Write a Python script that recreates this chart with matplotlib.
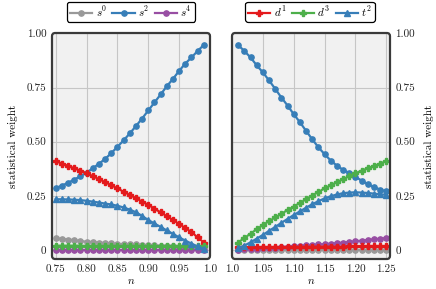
import matplotlib
matplotlib.use("Agg")
import matplotlib.pyplot as plt
from matplotlib.patches import FancyBboxPatch

plt.rcParams['font.family'] = ['cmr10', 'DejaVu Serif']
plt.rcParams['mathtext.fontset'] = 'cm'
plt.rcParams['axes.unicode_minus'] = False

# ---------------- data ----------------
n_left = [0.75, 0.76, 0.77, 0.78, 0.79, 0.80, 0.81, 0.82, 0.83, 0.84, 0.85, 0.86, 0.87,
          0.88, 0.89, 0.90, 0.91, 0.92, 0.93, 0.94, 0.95, 0.96, 0.97, 0.98, 0.99]
n_right = [1.01, 1.02, 1.03, 1.04, 1.05, 1.06, 1.07, 1.08, 1.09, 1.10, 1.11, 1.12, 1.13,
           1.14, 1.15, 1.16, 1.17, 1.18, 1.19, 1.20, 1.21, 1.22, 1.23, 1.24, 1.25]

# left panel (n < 1)
s0_L = [0.054, 0.051, 0.048, 0.045, 0.041, 0.038, 0.036, 0.034, 0.032, 0.030, 0.028, 0.027, 0.026,
        0.025, 0.023, 0.022, 0.021, 0.020, 0.019, 0.017, 0.015, 0.014, 0.012, 0.011, 0.010]
s2_L = [0.285, 0.297, 0.310, 0.325, 0.340, 0.357, 0.377, 0.398, 0.420, 0.447, 0.476, 0.506, 0.538,
        0.572, 0.607, 0.644, 0.681, 0.718, 0.756, 0.790, 0.827, 0.861, 0.889, 0.919, 0.947]
s4_L = [0.001] * 25
d1_L = [0.410, 0.399, 0.388, 0.377, 0.366, 0.354, 0.341, 0.327, 0.313, 0.299, 0.284, 0.269, 0.254,
        0.239, 0.223, 0.208, 0.191, 0.173, 0.156, 0.138, 0.120, 0.101, 0.082, 0.058, 0.034]
d3_L = [0.019, 0.019, 0.019, 0.019, 0.019, 0.018, 0.018, 0.018, 0.018, 0.018, 0.018, 0.018, 0.018,
        0.018, 0.017, 0.017, 0.017, 0.017, 0.017, 0.017, 0.016, 0.016, 0.016, 0.016, 0.016]
t2_L = [0.234, 0.234, 0.233, 0.232, 0.230, 0.227, 0.223, 0.219, 0.214, 0.210, 0.204, 0.196, 0.186,
        0.174, 0.157, 0.138, 0.122, 0.106, 0.090, 0.074, 0.058, 0.043, 0.029, 0.016, 0.005]

# right panel (n > 1)
s0_R = [0.001] * 25
s2_R = [0.946, 0.919, 0.889, 0.853, 0.820, 0.783, 0.744, 0.704, 0.667, 0.627, 0.590, 0.550, 0.511,
        0.474, 0.442, 0.413, 0.389, 0.370, 0.355, 0.338, 0.320, 0.304, 0.290, 0.279, 0.270]
s4_R = [0.000, 0.002, 0.003, 0.005, 0.007, 0.009, 0.011, 0.013, 0.015, 0.017, 0.019, 0.021, 0.023,
        0.025, 0.027, 0.029, 0.031, 0.034, 0.037, 0.040, 0.043, 0.046, 0.049, 0.052, 0.055]
d1_R = [0.012, 0.012, 0.012, 0.013, 0.013, 0.013, 0.013, 0.013, 0.014, 0.014, 0.014, 0.014, 0.014,
        0.015, 0.015, 0.015, 0.015, 0.015, 0.016, 0.016, 0.016, 0.016, 0.016, 0.016, 0.016]
d3_R = [0.034, 0.055, 0.075, 0.095, 0.115, 0.133, 0.150, 0.167, 0.184, 0.200, 0.217, 0.234, 0.251,
        0.268, 0.284, 0.299, 0.313, 0.327, 0.341, 0.354, 0.366, 0.377, 0.388, 0.399, 0.410]
t2_R = [0.008, 0.020, 0.035, 0.052, 0.069, 0.088, 0.106, 0.125, 0.143, 0.161, 0.178, 0.195, 0.211,
        0.225, 0.238, 0.248, 0.256, 0.262, 0.265, 0.266, 0.265, 0.263, 0.260, 0.257, 0.254]

xticks_L = [0.75, 0.80, 0.85, 0.90, 0.95, 1.0]
xtlab_L = ["0.75", "0.80", "0.85", "0.90", "0.95", "1.0"]
xticks_R = [1.0, 1.05, 1.10, 1.15, 1.20, 1.25]
xtlab_R = ["1.0", "1.05", "1.10", "1.15", "1.20", "1.25"]
yticks = [0, 0.25, 0.5, 0.75, 1.0]
ytlab = ["0", "0.25", "0.50", "0.75", "1.00"]

labels = [r"$s^0$", r"$s^2$", r"$s^4$", r"$d^1$", r"$d^3$", r"$t^2$"]
colors = ["#999999", "#377eb8", "#984ea3", "#e41a1c", "#4daf4a", "#377eb8"]
markers = ["o", "o", "o", "P", "P", "^"]
msizes = [3.8, 3.8, 3.8, 4.6, 4.6, 4.4]

fig = plt.figure(figsize=(4.36, 2.89), dpi=100)
axL = fig.add_axes([52/436, 30/289, 158/436, 226/289])
axR = fig.add_axes([232/436, 30/289, 158/436, 226/289])

series_L = [s0_L, s2_L, s4_L, d1_L, d3_L, t2_L]
series_R = [s0_R, s2_R, s4_R, d1_R, d3_R, t2_R]

handles = {}
for ax, xs, series in [(axL, n_left, series_L), (axR, n_right, series_R)]:
    ax.set_facecolor("#f1f1f1")
    for i, ys in enumerate(series):
        h, = ax.plot(xs, ys, color=colors[i], marker=markers[i], ms=msizes[i],
                     lw=1.6, label=labels[i], zorder=3 + i * 0.1, clip_on=False)
        if ax is axL and i < 3:
            handles[i] = h
        if ax is axR and i >= 3:
            handles[i] = h
    ax.set_ylim(-0.042, 1.002)
    ax.set_yticks(yticks)
    ax.set_yticklabels(ytlab)
    ax.grid(True, color="#c6c6c6", lw=0.8)
    ax.set_axisbelow(True)
    for sp in ax.spines.values():
        sp.set_visible(False)
    ax.tick_params(length=0, labelsize=8, pad=4, colors="#222222")
    ax.set_xlabel(r"$n$", fontsize=8, labelpad=2)
    ax.set_ylabel("statistical weight", fontsize=8, labelpad=6)
    frame = FancyBboxPatch((0, 0), 1, 1, boxstyle="round,pad=0,rounding_size=0.02",
                           mutation_aspect=0.7, transform=ax.transAxes, fill=False,
                           ec="#3a3a3a", lw=1.6, clip_on=False, zorder=10)
    ax.add_patch(frame)

axL.set_xlim(0.744, 1.0)
axL.set_xticks(xticks_L)
axL.set_xticklabels(xtlab_L)
axR.set_xlim(1.0, 1.256)
axR.set_xticks(xticks_R)
axR.set_xticklabels(xtlab_R)
axR.yaxis.tick_right()
axR.yaxis.set_label_position("right")

leg_kw = dict(ncol=3, loc="upper center", fontsize=8, frameon=True, fancybox=True,
              edgecolor="black", handlelength=2.0, columnspacing=0.5,
              handletextpad=0.3, borderpad=0.25, borderaxespad=0,
              bbox_transform=fig.transFigure)
legL = axL.legend([handles[0], handles[1], handles[2]], labels[:3],
                  bbox_to_anchor=(131/436, 1 - 1.5/289), **leg_kw)
legR = axR.legend([handles[3], handles[4], handles[5]], labels[3:],
                  bbox_to_anchor=(310/436, 1 - 1.5/289), **leg_kw)
for leg in (legL, legR):
    leg.get_frame().set_linewidth(0.9)
    leg.get_frame().set_alpha(1)

fig.savefig("out.png", dpi=100)
